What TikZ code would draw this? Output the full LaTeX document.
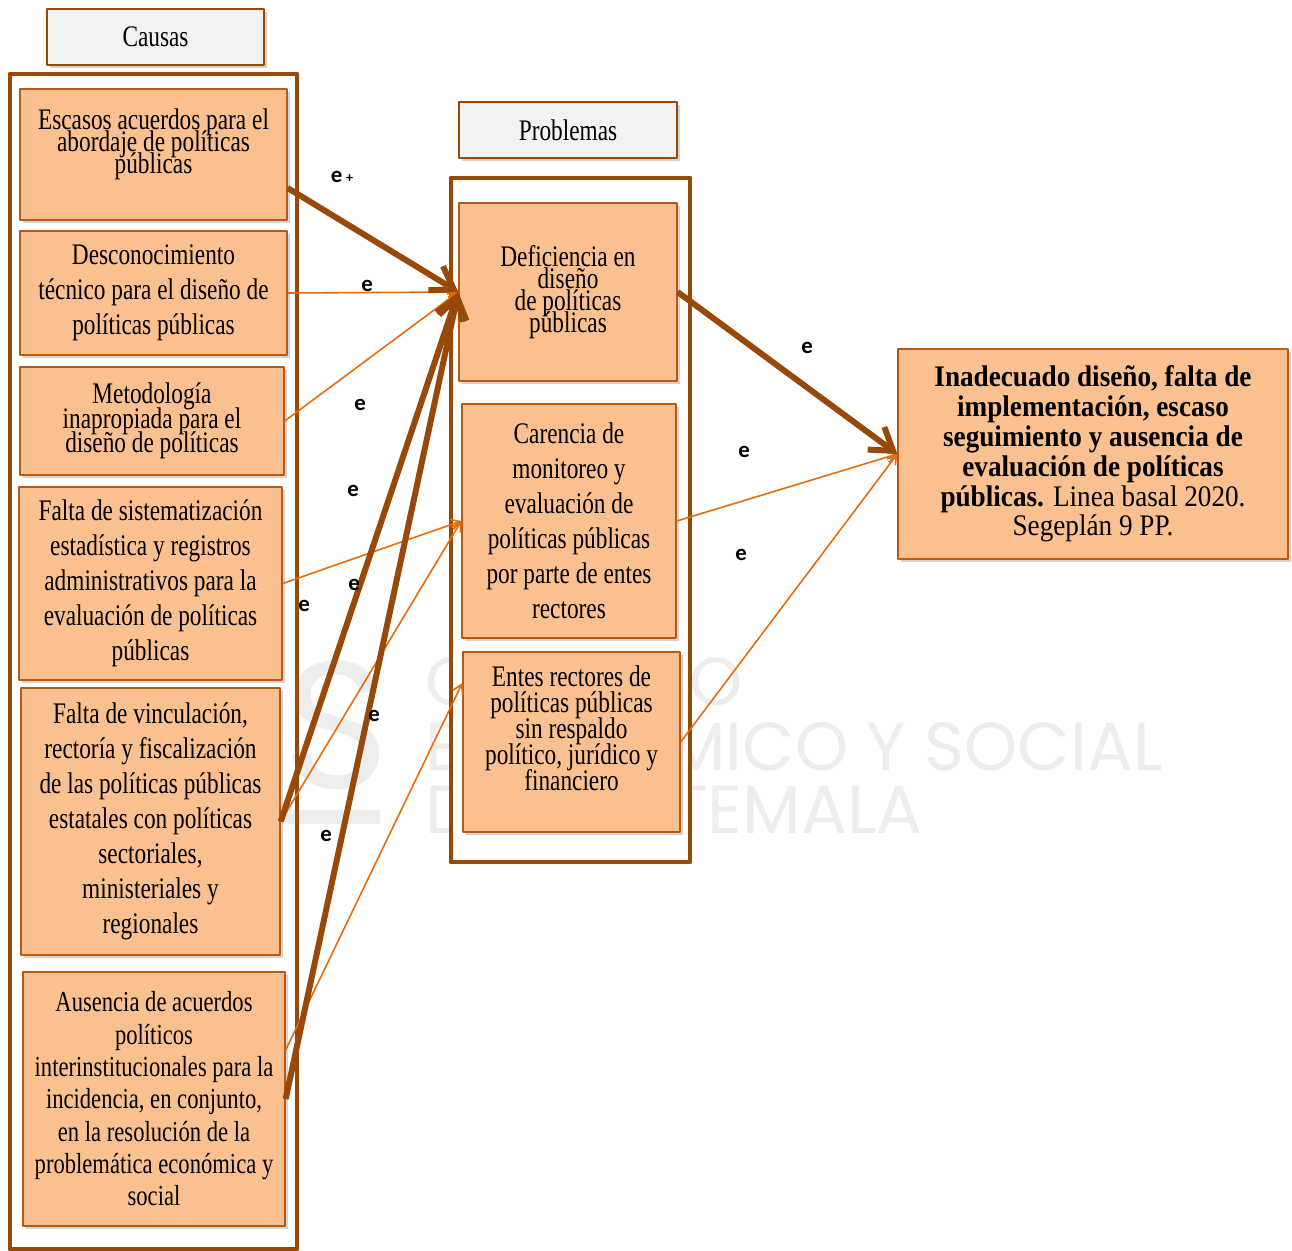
\documentclass[tikz,border=0pt]{standalone}
\usepackage{fontspec}
\setmainfont{Liberation Serif}[FakeStretch=0.78]
\newfontfamily\anchafont{Liberation Serif}[FakeStretch=0.91]
\newfontfamily\efont{Carlito}
\newfontfamily\wmfont{Poppins}
\usetikzlibrary{arrows.meta,shadows}
\definecolor{durazno}{HTML}{FAC090}
\definecolor{borde}{HTML}{B65A14}
\definecolor{cafe}{HTML}{984807}
\definecolor{naranja}{HTML}{E46C0A}
\definecolor{gris}{HTML}{F2F2F2}
\definecolor{marca}{HTML}{EDEDED}
\begin{document}
\lineskiplimit=-20pt
\begin{tikzpicture}[x=0.02cm,y=-0.02cm,line join=round,
	caja/.style={draw=borde,fill=durazno,line width=0.8pt,align=center,inner sep=1pt,
		drop shadow={shadow xshift=1.5pt,shadow yshift=-1.5pt,opacity=0.35},
		font=\fontsize{17}{19.9}\selectfont},
	titulo/.style={caja,fill=gris,draw=cafe,minimum height=1.12cm},
	marco/.style={draw=cafe,line width=2.8pt},
	fuerte/.style={draw=cafe,line width=3.4pt,-{Straight Barb[length=12pt,width=16pt]}},
	debil/.style={draw=naranja,line width=0.9pt,-{Straight Barb[length=5pt,width=6pt]}},
	etq/.style={font=\efont\bfseries\fontsize{13}{15}\selectfont,inner sep=0pt},
	agua/.style={font=\wmfont\fontsize{38.7}{40}\selectfont,text=marca,anchor=base west,inner sep=0pt}]
	\useasboundingbox (0,0) rectangle (1292,1251);
	\node[agua,font=\wmfont\fontsize{103}{103}\selectfont,anchor=base east] (logo) at (390,788) {S};
	\fill[marca] (280,810) rectangle (380,824);
	\node[agua] (wm1) at (425,705) {CONSEJO};
	\node[agua] (wm2) at (425,770) {ECONÓMICO Y SOCIAL};
	\node[agua] (wm3) at (425,833) {DE GUATEMALA};
	\node[titulo,minimum width=4.34cm] (causas) at (155.5,37) {Causas};
	\node[titulo,minimum width=4.36cm] (problemas) at (568,130) {Problemas};
	\draw[marco] (10,74) rectangle (297,1249);
	\draw[marco,fill=white] (451,178) rectangle (690,862);
	\node[caja,minimum width=5.34cm,minimum height=2.62cm,font=\fontsize{17}{12.5}\selectfont] (esc) at (153.5,154.5)
		{Escasos acuerdos para el\\abordaje de políticas\\públicas\\[3pt]\mbox{}};
	\node[caja,minimum width=5.34cm,minimum height=2.48cm] (des) at (153.5,293)
		{Desconocimiento\\técnico para el diseño de\\políticas públicas};
	\node[caja,minimum width=5.28cm,minimum height=2.16cm,font=\fontsize{17}{14}\selectfont] (met) at (152,421)
		{Metodología\\inapropiada para el\\diseño de políticas};
	\node[caja,minimum width=5.26cm,minimum height=3.86cm] (sis) at (150.5,583.5)
		{Falta de sistematización\\estadística y registros\\administrativos para la\\evaluación de políticas\\públicas};
	\node[caja,minimum width=5.18cm,minimum height=5.34cm] (vin) at (150.5,821.5)
		{Falta de vinculación,\\rectoría y fiscalización\\de las políticas públicas\\estatales con políticas\\sectoriales,\\ministeriales y\\regionales};
	\node[caja,minimum width=5.24cm,minimum height=5.08cm,font=\fontsize{16.5}{18.4}\selectfont] (aus) at (154,1099)
		{Ausencia de acuerdos\\políticos\\interinstitucionales para la\\incidencia, en conjunto,\\en la resolución de la\\problemática económica y\\social};
	\node[caja,minimum width=4.36cm,minimum height=3.56cm,font=\fontsize{17}{12.4}\selectfont] (def) at (568,292)
		{Deficiencia en\\diseño\\de políticas\\públicas};
	\node[caja,minimum width=4.28cm,minimum height=4.68cm] (car) at (569,521)
		{Carencia de\\monitoreo y\\evaluación de\\políticas públicas\\por parte de entes\\rectores};
	\node[caja,minimum width=4.34cm,minimum height=3.6cm,font=\fontsize{17}{14.8}\selectfont] (ent) at (571.5,742)
		{Entes rectores de\\políticas públicas\\sin respaldo\\político, jurídico y\\financiero\\[1pt]\mbox{}};
	\node[caja,minimum width=7.8cm,minimum height=4.2cm,font=\anchafont\fontsize{17}{17}\selectfont] (inad) at (1093,454)
		{\textbf{Inadecuado diseño, falta de}\\\textbf{implementación, escaso}\\\textbf{seguimiento y ausencia de}\\\textbf{evaluación de políticas}\\\textbf{públicas.} Linea basal 2020.\\Segeplán 9 PP.};
	\draw[debil] (des.east) -- (def.west);
	\draw[debil] (met.east) -- (def.west);
	\draw[debil] (sis.east) -- (car.west);
	\draw[debil] (vin.east) -- (car.west);
	\draw[debil] ([yshift=0.98cm]aus.east) -- ([yshift=1.18cm]ent.west);
	\draw[debil] (car.east) -- (inad.west);
	\draw[debil] (ent.east) -- (inad.west);
	\draw[fuerte] ([yshift=-0.67cm]esc.east) -- (def.west);
	\draw[fuerte] (vin.east) -- (def.west);
	\draw[fuerte] (aus.east) -- (def.west);
	\draw[fuerte] (def.east) -- (inad.west);
	\node[etq] (e1) at (342,177) {e\,{\fontsize{8}{8}\selectfont+}};
	\node[etq] (e2) at (367,286) {e};
	\node[etq] (e3) at (360,405) {e};
	\node[etq] (e4) at (353,491) {e};
	\node[etq] (e5) at (354,585) {e};
	\node[etq] (e6) at (304,606) {e};
	\node[etq] (e7) at (374,716) {e};
	\node[etq] (e8) at (326,836) {e};
	\node[etq] (e9) at (807,348) {e};
	\node[etq] (e10) at (744,452) {e};
	\node[etq] (e11) at (741,555) {e};
\end{tikzpicture}
\end{document}
